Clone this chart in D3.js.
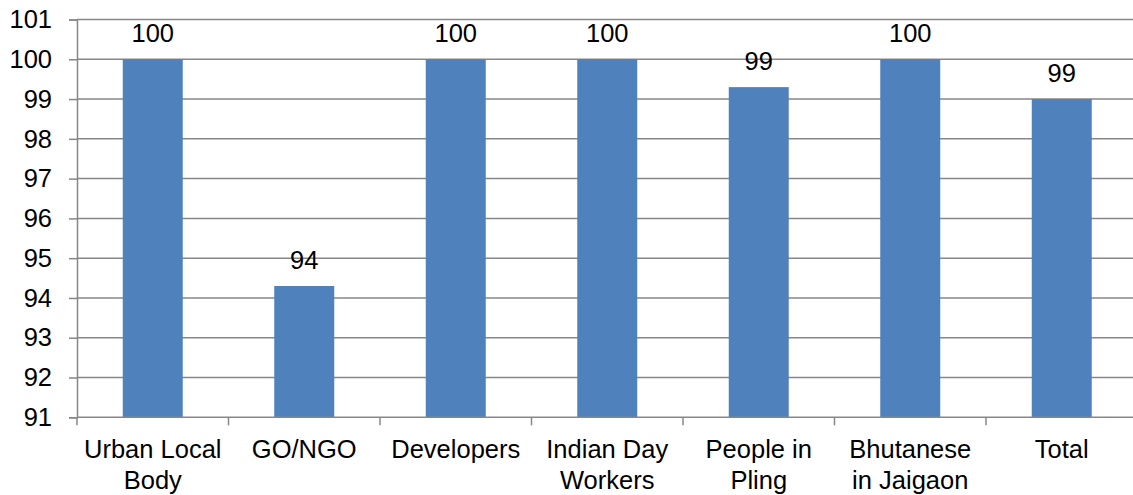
<!DOCTYPE html>
<html>
<head>
<meta charset="utf-8">
<script src="https://cdn.jsdelivr.net/npm/d3@7"></script>
<style>
  html, body { margin: 0; padding: 0; background: #fff; }
  svg { display: block; font-family: "Liberation Sans", Arial, sans-serif; }
</style>
</head>
<body>
<svg id="chart" width="1133" height="495"></svg>
<script>
// Survey groups (category labels are split over two lines)
const categories = [
  ["Urban Local", "Body"],
  ["GO/NGO"],
  ["Developers"],
  ["Indian Day", "Workers"],
  ["People in", "Pling"],
  ["Bhutanese", "in Jaigaon"],
  ["Total"]
];
const values = [100, 94.3, 100, 100, 99.3, 100, 99.0];
const yTicks = [91, 92, 93, 94, 95, 96, 97, 98, 99, 100, 101];

const svg = d3.select("#chart");
const plotLeft = 77, plotRight = 1137.5, plotTop = 19.5, plotBottom = 417.3;
const fontSize = 25.5;

const keys = categories.map(c => c.join(" "));
const x = d3.scaleBand().domain(keys).range([plotLeft, plotRight]).paddingInner(0.604).paddingOuter(0.302);
const xTickScale = d3.scaleBand().domain(keys).range([plotLeft, plotRight]);
const y = d3.scaleLinear().domain([91, 101]).range([plotBottom, plotTop]);

const gridColor = "#878787";

// Horizontal gridlines
svg.append("g")
  .selectAll("line")
  .data(yTicks.slice(1))
  .join("line")
  .attr("x1", plotLeft).attr("x2", 1133)
  .attr("y1", d => y(d)).attr("y2", d => y(d))
  .attr("stroke", gridColor).attr("stroke-width", 1.5);

// Y axis
const yAxis = svg.append("g")
  .attr("transform", `translate(${plotLeft},0)`)
  .call(d3.axisLeft(y).tickValues(yTicks).tickSize(8).tickPadding(17).tickFormat(d3.format("d")));
yAxis.select(".domain").attr("stroke", gridColor).attr("stroke-width", 1.5);
yAxis.selectAll(".tick line").attr("stroke", gridColor).attr("stroke-width", 1.5);
yAxis.selectAll(".tick text")
  .attr("font-size", fontSize).attr("fill", "#000")
  .attr("font-family", "'Liberation Sans', Arial, sans-serif");

// Bars
svg.append("g")
  .selectAll("rect")
  .data(values)
  .join("rect")
  .attr("x", (d, i) => x(keys[i]))
  .attr("width", x.bandwidth())
  .attr("y", d => y(d))
  .attr("height", d => y(91) - y(d))
  .attr("fill", "#4F81BD");

// X axis baseline and category separators
svg.append("line")
  .attr("x1", plotLeft).attr("x2", 1133)
  .attr("y1", plotBottom).attr("y2", plotBottom)
  .attr("stroke", gridColor).attr("stroke-width", 1.5);
svg.append("g")
  .selectAll("line")
  .data(keys)
  .join("line")
  .attr("x1", d => xTickScale(d)).attr("x2", d => xTickScale(d))
  .attr("y1", plotBottom).attr("y2", plotBottom + 8)
  .attr("stroke", gridColor).attr("stroke-width", 1.5);

// Value labels
const fmt = d3.format(".0f");
svg.append("g")
  .selectAll("text")
  .data(values)
  .join("text")
  .attr("x", (d, i) => x(keys[i]) + x.bandwidth() / 2)
  .attr("y", d => y(d) - 17.5)
  .attr("text-anchor", "middle")
  .attr("font-size", fontSize)
  .attr("fill", "#000")
  .text(d => fmt(d));

// Category labels
const catG = svg.append("g")
  .selectAll("text")
  .data(categories)
  .join("text")
  .attr("x", (d, i) => x(keys[i]) + x.bandwidth() / 2)
  .attr("y", 458)
  .attr("text-anchor", "middle")
  .attr("font-size", fontSize)
  .attr("fill", "#000");
catG.selectAll("tspan")
  .data(d => d)
  .join("tspan")
  .attr("x", function() { return this.parentNode.getAttribute("x"); })
  .attr("dy", (d, i) => i === 0 ? 0 : 31)
  .text(d => d);
</script>
</body>
</html>
